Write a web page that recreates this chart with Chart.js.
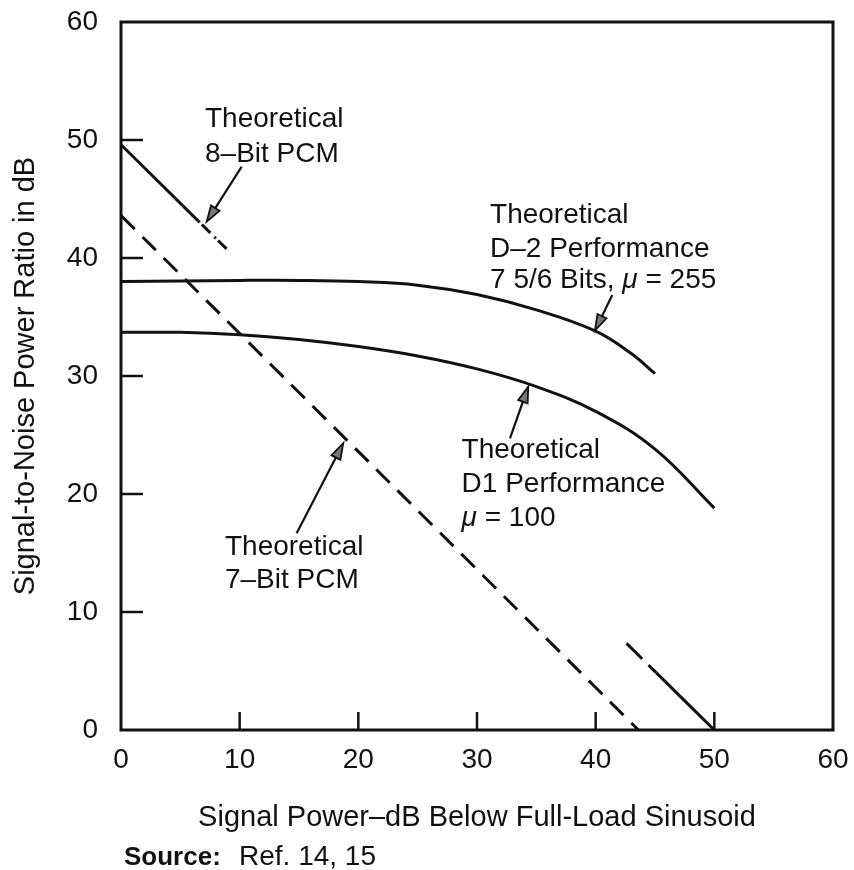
<!DOCTYPE html>
<html>
<head>
<meta charset="utf-8">
<title>Signal-to-Noise Power Ratio</title>
<script src="https://cdn.jsdelivr.net/npm/chart.js@4.4.1/dist/chart.umd.min.js"></script>
<style>
    html, body { margin: 0; padding: 0; background: #fff; }
    canvas { display: block; }
</style>
</head>
<body>
<canvas id="snrChart" width="854" height="870"></canvas>
<script>
// Signal power in dB below full load (x) against S/N ratio in dB (y)
const d2Power = [0, 5, 10, 15, 20, 25, 30, 35, 40, 43, 45];
const d2Snr = [38.0, 38.05, 38.1, 38.1, 38.0, 37.7, 36.9, 35.6, 33.8, 31.9, 30.2];

const d1Power = [0, 5, 10, 15, 20, 25, 30, 35, 40, 45, 50];
const d1Snr = [33.7, 33.7, 33.5, 33.1, 32.5, 31.7, 30.6, 29.1, 27.0, 23.8, 18.8];

const pcm7Power = [0, 43.6];
const pcm7Snr = [43.6, 0];

// 8-bit PCM is drawn in four pieces: solid, dashed, (gap), dashed, solid
const pcm8TopPower = [0, 6.5];
const pcm8TopSnr = [49.6, 43.15];
const pcm8TopDashPower = [6.5, 8.9];
const pcm8TopDashSnr = [43.15, 40.77];
const pcm8LowDashPower = [42.6, 45.1];
const pcm8LowDashSnr = [7.34, 4.86];
const pcm8LowPower = [45.1, 50];
const pcm8LowSnr = [4.86, 0];

const axisTicks = [0, 10, 20, 30, 40, 50, 60];

const FONT = '"Liberation Sans", Arial, Helvetica, sans-serif';
const INK = '#111';

function toPoints(xs, ys) {
    return xs.map((x, i) => ({ x, y: ys[i] }));
}

function lineSet(xs, ys, dash) {
    return {
        data: toPoints(xs, ys),
        showLine: true,
        borderColor: INK,
        borderWidth: 3,
        borderDash: dash || [],
        pointRadius: 0,
        tension: 0.4,
        fill: false
    };
}

// Labels and arrows, placed in data units
const callouts = [
    {
        x: 7.08,
        rows: [[{ t: 'Theoretical' }], [{ t: '8–Bit PCM' }]],
        rowY: [51.1, 48.1],
        arrow: { from: [10.17, 47.74], to: [7.22, 43.08] }
    },
    {
        x: 31.1,
        rows: [[{ t: 'Theoretical' }], [{ t: 'D–2 Performance' }],
               [{ t: '7 5/6 Bits, ' }, { t: 'μ', italic: true }, { t: ' = 255' }]],
        rowY: [42.97, 40.1, 37.46],
        arrow: { from: [41.4, 36.86], to: [39.94, 33.85] }
    },
    {
        x: 28.7,
        rows: [[{ t: 'Theoretical' }], [{ t: 'D1 Performance' }],
               [{ t: 'μ', italic: true }, { t: ' = 100' }]],
        rowY: [23.05, 20.17, 17.3],
        arrow: { from: [32.78, 24.72], to: [34.32, 29.1] }
    },
    {
        x: 8.76,
        rows: [[{ t: 'Theoretical' }], [{ t: '7–Bit PCM' }]],
        rowY: [14.83, 12.03],
        arrow: { from: [14.8, 16.67], to: [18.73, 24.3] }
    }
];

function drawArrow(ctx, x1, y1, x2, y2) {
    const ang = Math.atan2(y2 - y1, x2 - x1);
    const len = 16, half = 5;
    const bx = x2 - len * Math.cos(ang);
    const by = y2 - len * Math.sin(ang);
    ctx.beginPath();
    ctx.moveTo(x1, y1);
    ctx.lineTo(bx, by);
    ctx.lineWidth = 2.2;
    ctx.stroke();
    ctx.beginPath();
    ctx.moveTo(x2, y2);
    ctx.lineTo(bx - half * Math.sin(ang), by + half * Math.cos(ang));
    ctx.lineTo(bx + half * Math.sin(ang), by - half * Math.cos(ang));
    ctx.closePath();
    ctx.fillStyle = '#777';
    ctx.fill();
    ctx.lineWidth = 1.8;
    ctx.stroke();
}

const framePlugin = {
    id: 'frame',
    afterDatasetsDraw(chart) {
        const { ctx, chartArea: a, scales: { x, y } } = chart;
        ctx.save();
        ctx.strokeStyle = INK;
        ctx.lineCap = 'butt';

        // plot box
        ctx.lineWidth = 3;
        ctx.strokeRect(a.left, a.top, a.right - a.left, a.bottom - a.top);

        // inward tick marks
        ctx.lineWidth = 2.5;
        axisTicks.slice(1, -1).forEach(v => {
            const px = x.getPixelForValue(v);
            ctx.beginPath();
            ctx.moveTo(px, a.bottom);
            ctx.lineTo(px, a.bottom - 18);
            ctx.stroke();
            const py = y.getPixelForValue(v);
            ctx.beginPath();
            ctx.moveTo(a.left, py);
            ctx.lineTo(a.left + 22, py);
            ctx.stroke();
        });

        // callout text and arrows
        ctx.fillStyle = INK;
        ctx.textBaseline = 'alphabetic';
        ctx.textAlign = 'left';
        callouts.forEach(c => {
            c.rows.forEach((row, i) => {
                let px = x.getPixelForValue(c.x);
                const py = y.getPixelForValue(c.rowY[i]);
                row.forEach(run => {
                    ctx.font = (run.italic ? 'italic ' : '') + '28px ' + FONT;
                    ctx.fillText(run.t, px, py);
                    px += ctx.measureText(run.t).width;
                });
            });
            ctx.strokeStyle = INK;
            drawArrow(ctx,
                x.getPixelForValue(c.arrow.from[0]), y.getPixelForValue(c.arrow.from[1]),
                x.getPixelForValue(c.arrow.to[0]), y.getPixelForValue(c.arrow.to[1]));
            ctx.fillStyle = INK;
        });

        // source line under the axis title
        ctx.font = 'bold 26px ' + FONT;
        ctx.fillText('Source:', a.left + 3, 865);
        ctx.font = '28px ' + FONT;
        ctx.fillText('Ref. 14, 15', a.left + 118, 865);
        ctx.restore();
    }
};

new Chart(document.getElementById('snrChart'), {
    type: 'scatter',
    data: {
        datasets: [
            lineSet(d2Power, d2Snr),
            lineSet(d1Power, d1Snr),
            lineSet(pcm7Power, pcm7Snr, [19, 11]),
            lineSet(pcm8TopPower, pcm8TopSnr),
            lineSet(pcm8TopDashPower, pcm8TopDashSnr, [2, 3, 12, 6]),
            lineSet(pcm8LowDashPower, pcm8LowDashSnr, [22, 9]),
            lineSet(pcm8LowPower, pcm8LowSnr)
        ]
    },
    options: {
        responsive: false,
        animation: false,
        events: [],
        layout: { padding: { top: 22, right: 21, bottom: 30, left: 0 } },
        plugins: {
            legend: { display: false },
            tooltip: { enabled: false }
        },
        scales: {
            x: {
                type: 'linear',
                min: 0,
                max: 60,
                afterBuildTicks: s => { s.ticks = axisTicks.map(v => ({ value: v })); },
                ticks: { color: INK, padding: 13, maxRotation: 0, font: { family: FONT, size: 28 } },
                grid: { display: false, drawTicks: false },
                border: { display: false },
                title: {
                    display: true,
                    text: 'Signal Power–dB Below Full-Load Sinusoid',
                    color: INK,
                    font: { family: FONT, size: 29 },
                    padding: { top: 0, bottom: 5 }
                },
                afterFit: s => {
                    s.height = 110;
                    s.paddingLeft = 0;
                    s.paddingRight = 0;
                }
            },
            y: {
                type: 'linear',
                min: 0,
                max: 60,
                afterBuildTicks: s => { s.ticks = axisTicks.map(v => ({ value: v })); },
                ticks: { color: INK, padding: 23, font: { family: FONT, size: 28 } },
                grid: { display: false, drawTicks: false },
                border: { display: false },
                title: {
                    display: true,
                    text: 'Signal-to-Noise Power Ratio in dB',
                    color: INK,
                    font: { family: FONT, size: 29 },
                    padding: { top: 9, bottom: 0 }
                },
                afterFit: s => {
                    s.width = 121;
                    s.paddingTop = 0;
                    s.paddingBottom = 0;
                }
            }
        }
    },
    plugins: [framePlugin]
});
</script>
</body>
</html>
